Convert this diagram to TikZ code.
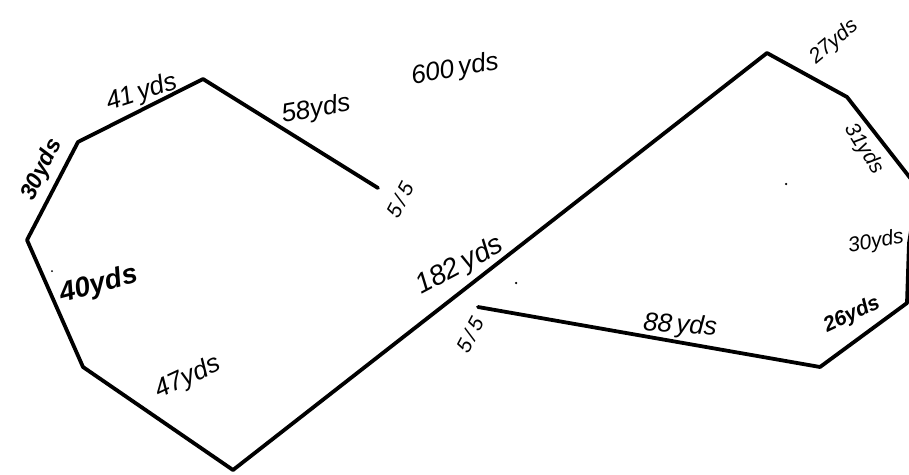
\documentclass[tikz,border=0pt]{standalone}
\usepackage{fontspec}
\setmainfont{Liberation Sans}
\tikzset{
  course/.style={line width=3.8pt, line join=round, line cap=round, black},
  lbl/.style={font=\itshape\fontsize{26}{28}\selectfont, inner sep=0pt},
  small/.style={font=\itshape\fontsize{21}{23}\selectfont, inner sep=0pt},
  speck/.style={fill=black, circle, inner sep=0pt, minimum size=2.5pt}
}
\begin{document}
\begin{tikzpicture}[x=1pt,y=-1pt]
\useasboundingbox (0,0) rectangle (909,474);
\clip (0,0) rectangle (909,474);
% vertices
\coordinate (s1) at (378,188);
\coordinate (v1) at (203,79);
\coordinate (v2) at (78,142);
\coordinate (v3) at (27,240);
\coordinate (v4) at (83,367);
\coordinate (v5) at (233,470);
\coordinate (v6) at (767,53);
\coordinate (v7) at (847,97);
\coordinate (v8) at (918,188);
\coordinate (v9) at (909,243);
\coordinate (v10) at (907,303);
\coordinate (v11) at (820,367);
\coordinate (s2) at (478,307);
\draw[course] (s1) -- (v1) -- (v2) -- (v3) -- (v4) -- (v5) -- (v6) -- (v7) -- (v8) -- (v9) -- (v10) -- (v11) -- (s2);
\draw[line width=1.6pt] (v5) -- (v6);
% labels
\node[lbl, rotate=10] (t600) at (455,70) {600\,yds};
\node[lbl, rotate=18] (t41) at (142,93) {41\,yds};
\node[lbl, rotate=10] (t58) at (316,110) {58yds};
\node[small, rotate=62] (t55a) at (400,200) {5\,/\,5};
\node[lbl, rotate=64, font=\bfseries\itshape\fontsize{23}{25}\selectfont] (t30a) at (42,170) {30yds};
\node[lbl, rotate=15, font=\bfseries\itshape\fontsize{28}{30}\selectfont] (t40) at (99,285) {40yds};
\node[lbl, rotate=25] (t47) at (188,378) {47yds};
\node[lbl, rotate=28, font=\itshape\fontsize{28}{30}\selectfont] (t182) at (460,266) {182\,yds};
\node[small, rotate=62] (t55b) at (470,335) {5\,/\,5};
\node[lbl, rotate=-4] (t88) at (680,326) {88\,yds};
\node[lbl, rotate=25, font=\bfseries\itshape\fontsize{21}{23}\selectfont] (t26) at (852,315) {26yds};
\node[small, rotate=10] (t30b) at (876,242) {30yds};
\node[small, rotate=-58] (t31) at (864,149) {31yds};
\node[small, rotate=40] (t27) at (834,42) {27yds};
% specks
\node[speck] (d1) at (516,283) {};
\node[speck] (d2) at (786,184) {};
\node[speck, minimum size=2pt] (d3) at (52,271) {};
\end{tikzpicture}
\end{document}
